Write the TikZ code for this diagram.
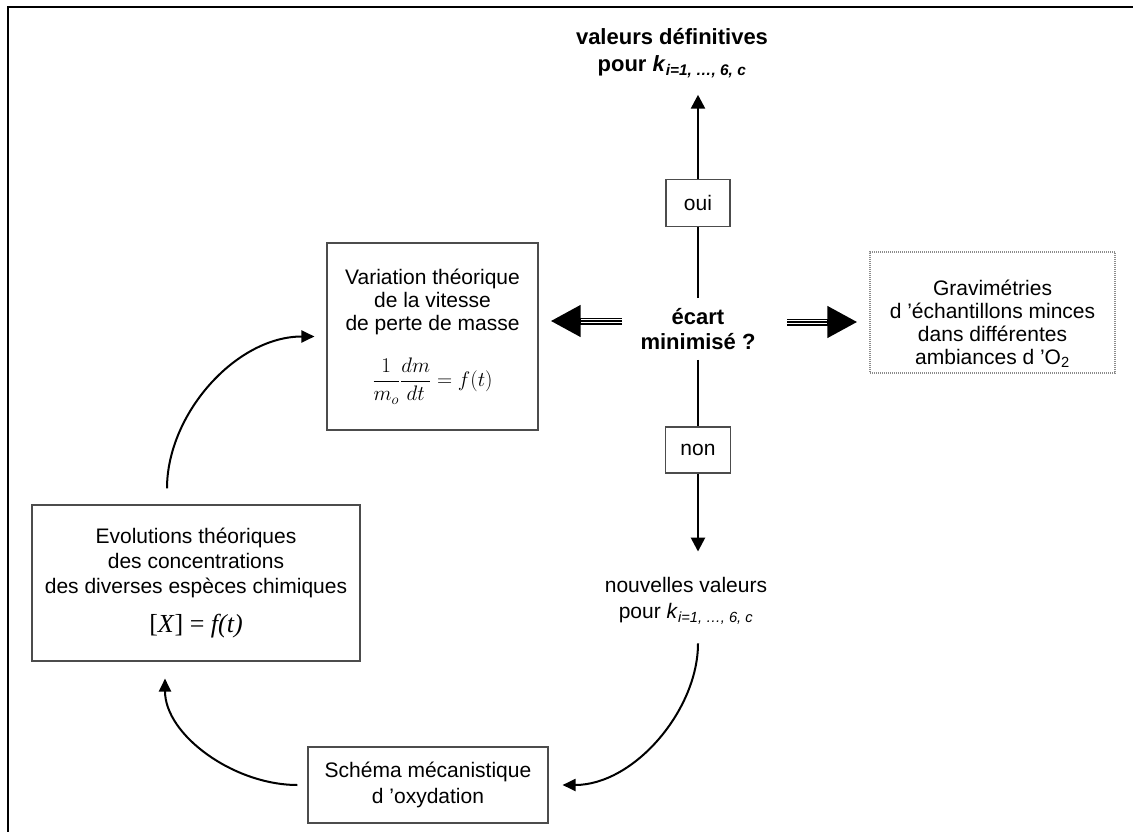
\documentclass[tikz,border=0pt]{standalone}
\usepackage{fix-cm}
\usepackage{amsmath}
\usepackage{fontspec}
\setmainfont{Liberation Sans}
\newfontfamily\tnr{Liberation Serif}
\usetikzlibrary{arrows.meta}

\begin{document}
\begin{tikzpicture}[x=1pt,y=1pt,
  box/.style={draw=black!70,line width=1.1pt,align=center,inner sep=0pt,font=\fontsize{21}{23}\selectfont},
  dotbox/.style={box,draw=black!45,dash pattern=on 1pt off 1pt},
  plain/.style={align=center,inner sep=0pt},
  trunk/.style={line width=2.6pt},
  flow/.style={trunk,-{Triangle[width=14pt,length=14pt]}},
  loop/.style={line width=2pt,-{Triangle[width=12pt,length=13pt]}},
  bigarrow/.style={line width=7pt,-{Triangle[width=30pt,length=30pt]},shorten >=12pt,
    postaction={draw=white,line width=4pt,-,shorten >=42pt},
    postaction={draw=black,line width=1.4pt,-,shorten >=42pt}}]
\useasboundingbox (0,0) rectangle (1133,-832);
% frame
\draw[line width=2.6pt] (8,-832) -- (8,-7) -- (1133,-7);

% decision
\node[plain,font=\bfseries\fontsize{22}{27}\selectfont] (final) at (672,-53) {valeurs définitives\\pour \textit{k}\textsubscript{\textit{i=1, …, 6, c}}};
\node[box,minimum width=64pt,minimum height=47pt] (oui) at (698,-203) {oui};
\node[plain,inner sep=10pt,font=\bfseries\fontsize{22}{25}\selectfont] (ecart) at (698,-329) {écart\\minimisé ?};
\node[box,minimum width=65pt,minimum height=46pt] (non) at (698,-450) {non};
\node[plain,font=\fontsize{21}{26}\selectfont] (nouv) at (686,-601) {nouvelles valeurs\\pour \textit{k}\textsubscript{\textit{i=1, …, 6, c}}};

% boxes
\node[box,minimum width=211pt,minimum height=187pt] (vitesse) at (432.5,-336.5) {Variation théorique\\de la vitesse\\de perte de masse\\[22pt]$\displaystyle\frac{1}{m_o}\frac{dm}{dt}=f(t)$};
\node[box,minimum width=328pt,minimum height=156pt,font=\fontsize{21}{25}\selectfont] (evol) at (196,-583) {Evolutions théoriques\\des concentrations\\des diverses espèces chimiques\\[14pt]{\tnr\fontsize{26}{28}\selectfont [\textit{X}] = \textit{f(t)}}};
\node[box,minimum width=240pt,minimum height=76pt,font=\fontsize{21}{26}\selectfont] (schema) at (428,-785) {Schéma mécanistique\\d 'oxydation};
\node[dotbox,minimum width=245pt,minimum height=121pt] (grav) at (992.5,-312.5) {\rule{0pt}{38pt}Gravimétries\\d 'échantillons minces\\dans différentes\\ambiances d 'O\textsubscript{2}};

% connectors
\draw[flow,shorten >=17pt] (oui) -- (oui |- final.south);
\draw[trunk] (ecart) -- (oui);
\draw[trunk] (ecart) -- (non);
\draw[flow,shorten >=26pt] (non) -- (non |- nouv.north);
\draw[loop,shorten <=19pt,shorten >=14pt] (non |- nouv.south) to[out=-90,in=0] (schema.east);
\draw[loop,shorten <=10pt,shorten >=17pt] (schema.west) to[out=180,in=-90] ([xshift=-31pt]evol.south);
\draw[loop,shorten <=16pt,shorten >=12pt] ([xshift=-29pt]evol.north) to[out=90,in=180] (vitesse.west);

% striped arrows
\coordinate (lstart) at (622,-321);
\coordinate (rstart) at (787,-322);
\draw[bigarrow] (lstart) -- (vitesse.east |- lstart);
\draw[bigarrow] (rstart) -- (grav.west |- rstart);
\end{tikzpicture}
\end{document}
